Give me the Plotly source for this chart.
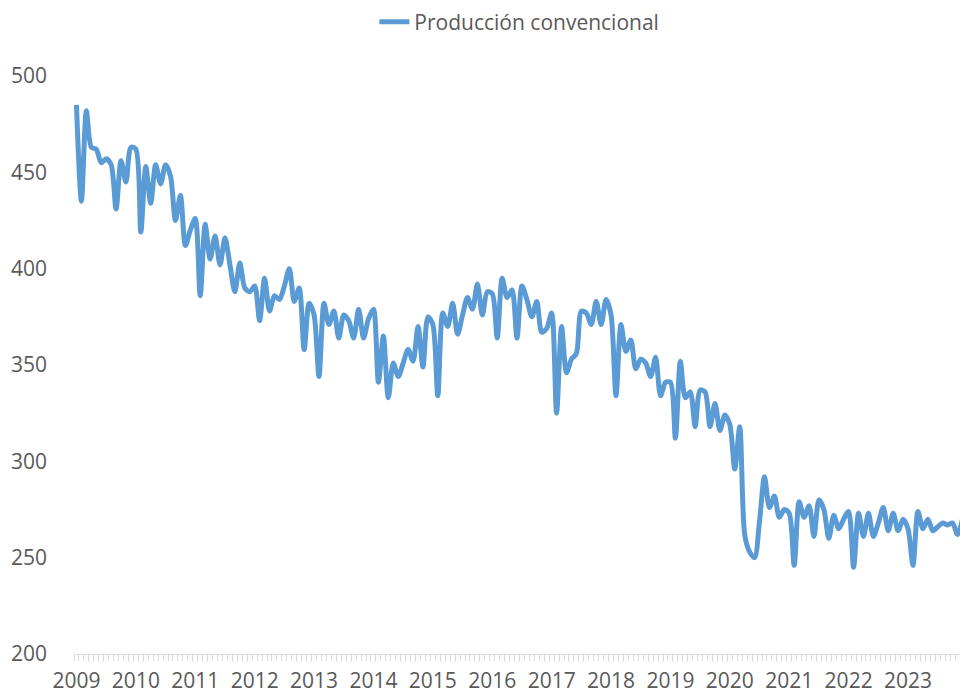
import plotly.graph_objects as go

year_labels = ["2009", "2010", "2011", "2012", "2013", "2014", "2015", "2016",
               "2017", "2018", "2019", "2020", "2021", "2022", "2023"]

produccion = [
    485, 435, 482, 463, 462, 455, 457, 454, 431, 456, 445, 463,   # 2009
    462, 419, 453, 434, 454, 444, 454, 448, 425, 438, 412, 420,   # 2010
    426, 386, 423, 405, 417, 402, 416, 402, 388, 403, 390, 388,   # 2011
    391, 373, 395, 378, 386, 384, 391, 400, 383, 390, 358, 382,   # 2012
    376, 344, 382, 371, 378, 364, 376, 373, 364, 379, 364, 374,   # 2013
    379, 341, 365, 333, 351, 344, 351, 358, 352, 370, 349, 375,   # 2014
    371, 334, 377, 370, 382, 366, 376, 385, 379, 392, 376, 388,   # 2015
    387, 364, 395, 385, 389, 364, 391, 384, 375, 383, 367, 369,   # 2016
    377, 325, 370, 346, 353, 356, 378, 377, 371, 383, 371, 384,   # 2017
    376, 334, 371, 357, 363, 348, 353, 351, 344, 354, 334, 341,   # 2018
    341, 312, 352, 333, 336, 318, 337, 336, 318, 330, 316, 324,   # 2019
    319, 296, 318, 262, 253, 250, 269, 292, 276, 282, 271, 275,   # 2020
    273, 246, 279, 271, 277, 261, 280, 275, 260, 272, 265, 270,   # 2021
    274, 245, 273, 261, 273, 261, 268, 276, 264, 273, 264, 270,   # 2022
    265, 246, 274, 265, 270, 264, 266, 268, 267, 268, 262, 270,   # 2023
]

month_index = list(range(len(produccion)))
year_tick_pos = [12 * i for i in range(len(year_labels))]

fig = go.Figure()
fig.add_trace(go.Scatter(
    x=month_index,
    y=produccion,
    mode="lines",
    name="Producción convencional",
    line=dict(color="#5B9BD5", width=5, shape="spline", smoothing=0.8),
    hoverinfo="x+y",
))

fig.update_layout(
    width=960,
    height=694,
    margin=dict(l=74, r=0, t=76, b=40),
    plot_bgcolor="white",
    paper_bgcolor="white",
    font=dict(family="Open Sans", size=21, color="#595959"),
    showlegend=True,
    legend=dict(
        orientation="h",
        xref="container", yref="container",
        x=0.541, xanchor="center",
        y=0.968, yanchor="middle",
        font=dict(size=21, color="#595959"),
        bgcolor="rgba(0,0,0,0)",
    ),
    xaxis=dict(
        range=[-0.5, 178.5],
        tickmode="array",
        tickvals=year_tick_pos,
        ticktext=year_labels,
        ticks="",
        showline=True,
        linecolor="#D9D9D9",
        linewidth=1,
        showgrid=False,
        zeroline=False,
        automargin=False,
        ticklabelstandoff=8,
        minor=dict(ticks="outside", tickmode="linear", tick0=-0.5, dtick=1,
                   ticklen=6, tickcolor="#D9D9D9", tickwidth=1, showgrid=False),
    ),
    yaxis=dict(
        range=[200, 500],
        dtick=50,
        tick0=200,
        showgrid=False,
        showline=False,
        zeroline=False,
        automargin=False,
        ticks="",
        ticklabelstandoff=26,
    ),
)

fig.write_html(
    "out.html",
    config={"displayModeBar": False},
    post_script="document.body.style.margin='0';document.body.style.overflow='hidden';",
)
